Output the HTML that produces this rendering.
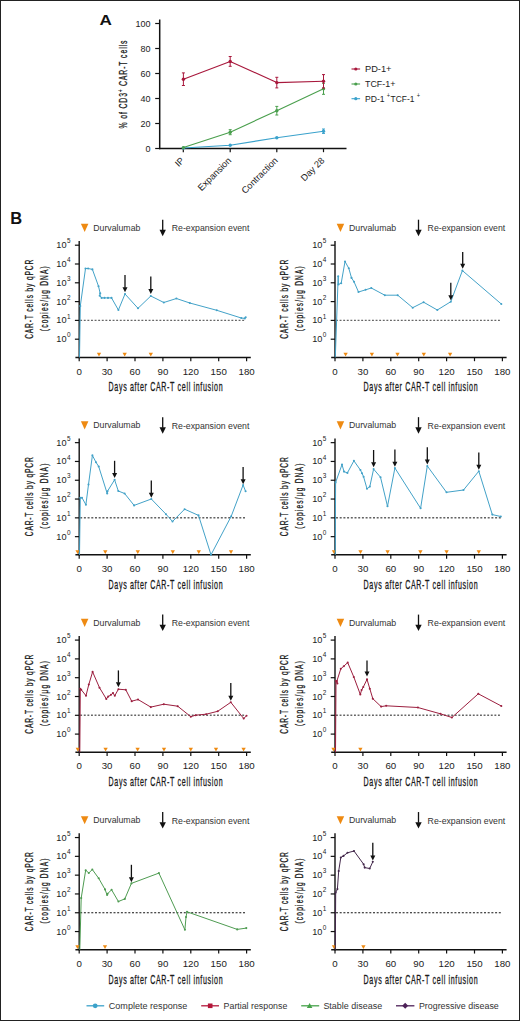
<!DOCTYPE html>
<html><head><meta charset="utf-8"><title>Figure</title>
<style>
html,body{margin:0;padding:0;background:#fff;}
body{width:520px;height:1021px;overflow:hidden;}
svg{display:block;font-family:"Liberation Sans", sans-serif;}
</style></head>
<body>
<svg width="520" height="1021" viewBox="0 0 520 1021">
<rect x="0" y="0" width="520" height="1021" fill="#fff"/>
<rect x="0.5" y="0.5" width="519" height="1020" fill="none" stroke="#222" stroke-width="1"/>
<text x="99.50" y="24.80" font-size="15.4" fill="#111" textLength="12.40" lengthAdjust="spacingAndGlyphs" font-weight="bold" >A</text>
<line x1="159.70" y1="19.50" x2="159.70" y2="149.20" stroke="#111" stroke-width="1.5" />
<line x1="159.00" y1="148.50" x2="346.50" y2="148.50" stroke="#111" stroke-width="1.5" />
<line x1="155.20" y1="148.50" x2="159.70" y2="148.50" stroke="#111" stroke-width="1.2" />
<text x="150.60" y="151.50" font-size="9.0" fill="#222" text-anchor="end" >0</text>
<line x1="155.20" y1="123.50" x2="159.70" y2="123.50" stroke="#111" stroke-width="1.2" />
<text x="150.60" y="126.50" font-size="9.0" fill="#222" text-anchor="end" >20</text>
<line x1="155.20" y1="98.50" x2="159.70" y2="98.50" stroke="#111" stroke-width="1.2" />
<text x="150.60" y="101.50" font-size="9.0" fill="#222" text-anchor="end" >40</text>
<line x1="155.20" y1="73.50" x2="159.70" y2="73.50" stroke="#111" stroke-width="1.2" />
<text x="150.60" y="76.50" font-size="9.0" fill="#222" text-anchor="end" >60</text>
<line x1="155.20" y1="48.50" x2="159.70" y2="48.50" stroke="#111" stroke-width="1.2" />
<text x="150.60" y="51.50" font-size="9.0" fill="#222" text-anchor="end" >80</text>
<line x1="155.20" y1="23.50" x2="159.70" y2="23.50" stroke="#111" stroke-width="1.2" />
<text x="150.60" y="26.50" font-size="9.0" fill="#222" text-anchor="end" >100</text>
<line x1="183.30" y1="148.50" x2="183.30" y2="152.20" stroke="#111" stroke-width="1.2" />
<line x1="230.20" y1="148.50" x2="230.20" y2="152.20" stroke="#111" stroke-width="1.2" />
<line x1="276.80" y1="148.50" x2="276.80" y2="152.20" stroke="#111" stroke-width="1.2" />
<line x1="323.50" y1="148.50" x2="323.50" y2="152.20" stroke="#111" stroke-width="1.2" />
<text transform="translate(184.90,161.10) rotate(-45)" font-size="9.2" fill="#222" text-anchor="end">IP</text>
<text transform="translate(231.80,161.10) rotate(-45)" font-size="9.2" fill="#222" text-anchor="end">Expansion</text>
<text transform="translate(278.40,161.10) rotate(-45)" font-size="9.2" fill="#222" text-anchor="end">Contraction</text>
<text transform="translate(325.10,161.10) rotate(-45)" font-size="9.2" fill="#222" text-anchor="end">Day 28</text>
<text transform="translate(127.20,128.60) rotate(-90) scale(0.58,1)" font-size="11.8" fill="#1a1a1a" stroke="#1a1a1a" stroke-width="0.3" textLength="151.72" lengthAdjust="spacing">% of CD3<tspan font-size="7" dy="-4.5">+</tspan><tspan dy="4.5"> CAR-T cells</tspan></text>
<polyline points="183.40,148.00 230.20,145.30 276.80,137.70 323.50,131.20" fill="none" stroke="#3aa2cc" stroke-width="1.1" stroke-linejoin="round" />
<circle cx="183.40" cy="148.00" r="1.7" fill="#3aa2cc"/>
<circle cx="230.20" cy="145.30" r="1.7" fill="#3aa2cc"/>
<circle cx="276.80" cy="137.70" r="1.7" fill="#3aa2cc"/>
<line x1="323.50" y1="129.00" x2="323.50" y2="133.40" stroke="#3aa2cc" stroke-width="1.0" />
<line x1="322.00" y1="129.00" x2="325.00" y2="129.00" stroke="#3aa2cc" stroke-width="1.0" />
<line x1="322.00" y1="133.40" x2="325.00" y2="133.40" stroke="#3aa2cc" stroke-width="1.0" />
<circle cx="323.50" cy="131.20" r="1.7" fill="#3aa2cc"/>
<polyline points="183.40,147.60 230.20,132.20 276.80,110.70 323.50,88.80" fill="none" stroke="#4a9f4d" stroke-width="1.1" stroke-linejoin="round" />
<circle cx="183.40" cy="147.60" r="1.7" fill="#4a9f4d"/>
<line x1="230.20" y1="129.70" x2="230.20" y2="134.70" stroke="#4a9f4d" stroke-width="1.0" />
<line x1="228.70" y1="129.70" x2="231.70" y2="129.70" stroke="#4a9f4d" stroke-width="1.0" />
<line x1="228.70" y1="134.70" x2="231.70" y2="134.70" stroke="#4a9f4d" stroke-width="1.0" />
<circle cx="230.20" cy="132.20" r="1.7" fill="#4a9f4d"/>
<line x1="276.80" y1="106.40" x2="276.80" y2="115.00" stroke="#4a9f4d" stroke-width="1.0" />
<line x1="275.30" y1="106.40" x2="278.30" y2="106.40" stroke="#4a9f4d" stroke-width="1.0" />
<line x1="275.30" y1="115.00" x2="278.30" y2="115.00" stroke="#4a9f4d" stroke-width="1.0" />
<circle cx="276.80" cy="110.70" r="1.7" fill="#4a9f4d"/>
<line x1="323.50" y1="83.30" x2="323.50" y2="94.30" stroke="#4a9f4d" stroke-width="1.0" />
<line x1="322.00" y1="83.30" x2="325.00" y2="83.30" stroke="#4a9f4d" stroke-width="1.0" />
<line x1="322.00" y1="94.30" x2="325.00" y2="94.30" stroke="#4a9f4d" stroke-width="1.0" />
<circle cx="323.50" cy="88.80" r="1.7" fill="#4a9f4d"/>
<polyline points="183.40,79.20 230.20,61.40 276.80,82.60 323.50,81.30" fill="none" stroke="#a8183c" stroke-width="1.1" stroke-linejoin="round" />
<line x1="183.40" y1="72.90" x2="183.40" y2="85.50" stroke="#a8183c" stroke-width="1.0" />
<line x1="181.90" y1="72.90" x2="184.90" y2="72.90" stroke="#a8183c" stroke-width="1.0" />
<line x1="181.90" y1="85.50" x2="184.90" y2="85.50" stroke="#a8183c" stroke-width="1.0" />
<circle cx="183.40" cy="79.20" r="1.7" fill="#a8183c"/>
<line x1="230.20" y1="56.50" x2="230.20" y2="66.30" stroke="#a8183c" stroke-width="1.0" />
<line x1="228.70" y1="56.50" x2="231.70" y2="56.50" stroke="#a8183c" stroke-width="1.0" />
<line x1="228.70" y1="66.30" x2="231.70" y2="66.30" stroke="#a8183c" stroke-width="1.0" />
<circle cx="230.20" cy="61.40" r="1.7" fill="#a8183c"/>
<line x1="276.80" y1="77.30" x2="276.80" y2="87.90" stroke="#a8183c" stroke-width="1.0" />
<line x1="275.30" y1="77.30" x2="278.30" y2="77.30" stroke="#a8183c" stroke-width="1.0" />
<line x1="275.30" y1="87.90" x2="278.30" y2="87.90" stroke="#a8183c" stroke-width="1.0" />
<circle cx="276.80" cy="82.60" r="1.7" fill="#a8183c"/>
<line x1="323.50" y1="74.60" x2="323.50" y2="88.00" stroke="#a8183c" stroke-width="1.0" />
<line x1="322.00" y1="74.60" x2="325.00" y2="74.60" stroke="#a8183c" stroke-width="1.0" />
<line x1="322.00" y1="88.00" x2="325.00" y2="88.00" stroke="#a8183c" stroke-width="1.0" />
<circle cx="323.50" cy="81.30" r="1.7" fill="#a8183c"/>
<line x1="351.50" y1="69.00" x2="360.10" y2="69.00" stroke="#a8183c" stroke-width="1.1" />
<circle cx="355.8" cy="69.0" r="1.6" fill="#a8183c"/>
<text x="365.00" y="72.10" font-size="9.6" fill="#222" textLength="26.50" lengthAdjust="spacingAndGlyphs" >PD-1+</text>
<line x1="351.50" y1="84.00" x2="360.10" y2="84.00" stroke="#4a9f4d" stroke-width="1.1" />
<circle cx="355.8" cy="84.0" r="1.6" fill="#4a9f4d"/>
<text x="365.00" y="87.10" font-size="9.6" fill="#222" textLength="30.40" lengthAdjust="spacingAndGlyphs" >TCF-1+</text>
<line x1="351.50" y1="98.70" x2="360.10" y2="98.70" stroke="#3aa2cc" stroke-width="1.1" />
<circle cx="355.8" cy="98.7" r="1.6" fill="#3aa2cc"/>
<text x="365.00" y="101.80" font-size="9.6" fill="#222" textLength="19.60" lengthAdjust="spacingAndGlyphs" >PD-1</text>
<text x="386.80" y="97.70" font-size="6.4" fill="#222" textLength="3.30" lengthAdjust="spacingAndGlyphs" >+</text>
<text x="390.60" y="101.80" font-size="9.6" fill="#222" textLength="23.80" lengthAdjust="spacingAndGlyphs" >TCF-1</text>
<text x="416.80" y="97.70" font-size="6.4" fill="#222" textLength="3.30" lengthAdjust="spacingAndGlyphs" >+</text>
<text x="10.30" y="224.20" font-size="15.6" fill="#111" textLength="11.90" lengthAdjust="spacingAndGlyphs" font-weight="bold" >B</text>
<path d="M80.90,223.80 L88.40,223.80 L84.65,232.00 Z" fill="#ee8a12"/>
<text x="93.20" y="231.00" font-size="9.6" fill="#333" textLength="47.20" lengthAdjust="spacingAndGlyphs" >Durvalumab</text>
<line x1="162.70" y1="219.70" x2="162.70" y2="230.30" stroke="#111" stroke-width="1.3" />
<path d="M159.50,229.80 L165.90,229.80 L162.70,236.20 Z" fill="#111"/>
<text x="171.80" y="231.40" font-size="9.6" fill="#333" textLength="77.60" lengthAdjust="spacingAndGlyphs" >Re-expansion event</text>
<line x1="79.20" y1="241.00" x2="79.20" y2="358.15" stroke="#111" stroke-width="1.4" />
<line x1="75.40" y1="357.40" x2="250.80" y2="357.40" stroke="#111" stroke-width="1.5" />
<line x1="74.90" y1="245.20" x2="79.20" y2="245.20" stroke="#111" stroke-width="1.2" />
<text x="66.60" y="248.20" font-size="9.2" fill="#222" text-anchor="end" >10</text>
<text x="67.00" y="243.30" font-size="6.4" fill="#222" >5</text>
<line x1="74.90" y1="264.00" x2="79.20" y2="264.00" stroke="#111" stroke-width="1.2" />
<text x="66.60" y="267.00" font-size="9.2" fill="#222" text-anchor="end" >10</text>
<text x="67.00" y="262.10" font-size="6.4" fill="#222" >4</text>
<line x1="74.90" y1="282.80" x2="79.20" y2="282.80" stroke="#111" stroke-width="1.2" />
<text x="66.60" y="285.80" font-size="9.2" fill="#222" text-anchor="end" >10</text>
<text x="67.00" y="280.90" font-size="6.4" fill="#222" >3</text>
<line x1="74.90" y1="301.60" x2="79.20" y2="301.60" stroke="#111" stroke-width="1.2" />
<text x="66.60" y="304.60" font-size="9.2" fill="#222" text-anchor="end" >10</text>
<text x="67.00" y="299.70" font-size="6.4" fill="#222" >2</text>
<line x1="74.90" y1="320.40" x2="79.20" y2="320.40" stroke="#111" stroke-width="1.2" />
<text x="66.60" y="323.40" font-size="9.2" fill="#222" text-anchor="end" >10</text>
<text x="67.00" y="318.50" font-size="6.4" fill="#222" >1</text>
<line x1="74.90" y1="339.20" x2="79.20" y2="339.20" stroke="#111" stroke-width="1.2" />
<text x="66.60" y="342.20" font-size="9.2" fill="#222" text-anchor="end" >10</text>
<text x="67.00" y="337.30" font-size="6.4" fill="#222" >0</text>
<line x1="79.20" y1="357.40" x2="79.20" y2="361.20" stroke="#111" stroke-width="1.2" />
<text x="79.20" y="374.50" font-size="9.7" fill="#222" text-anchor="middle" >0</text>
<line x1="107.10" y1="357.40" x2="107.10" y2="361.20" stroke="#111" stroke-width="1.2" />
<text x="107.10" y="374.50" font-size="9.7" fill="#222" text-anchor="middle" >30</text>
<line x1="135.00" y1="357.40" x2="135.00" y2="361.20" stroke="#111" stroke-width="1.2" />
<text x="135.00" y="374.50" font-size="9.7" fill="#222" text-anchor="middle" >60</text>
<line x1="162.90" y1="357.40" x2="162.90" y2="361.20" stroke="#111" stroke-width="1.2" />
<text x="162.90" y="374.50" font-size="9.7" fill="#222" text-anchor="middle" >90</text>
<line x1="190.80" y1="357.40" x2="190.80" y2="361.20" stroke="#111" stroke-width="1.2" />
<text x="190.80" y="374.50" font-size="9.7" fill="#222" text-anchor="middle" >120</text>
<line x1="218.70" y1="357.40" x2="218.70" y2="361.20" stroke="#111" stroke-width="1.2" />
<text x="218.70" y="374.50" font-size="9.7" fill="#222" text-anchor="middle" >150</text>
<line x1="246.60" y1="357.40" x2="246.60" y2="361.20" stroke="#111" stroke-width="1.2" />
<text x="246.60" y="374.50" font-size="9.7" fill="#222" text-anchor="middle" >180</text>
<text transform="translate(108.60,391.40) scale(0.58,1)" font-size="12.2" fill="#1a1a1a" stroke="#1a1a1a" stroke-width="0.3" textLength="196.55" lengthAdjust="spacing">Days after CAR-T cell infusion</text>
<text transform="translate(32.60,338.80) rotate(-90) scale(0.58,1)" font-size="11.4" fill="#1a1a1a" stroke="#1a1a1a" stroke-width="0.3" textLength="136.21" lengthAdjust="spacing">CAR-T cells by qPCR</text>
<text transform="translate(47.60,331.20) rotate(-90) scale(0.58,1)" font-size="11.4" fill="#1a1a1a" stroke="#1a1a1a" stroke-width="0.3" textLength="112.07" lengthAdjust="spacing">(copies/μg DNA)</text>
<line x1="80.20" y1="320.40" x2="245.20" y2="320.40" stroke="#666" stroke-width="1.4" stroke-dasharray="1.9 1.7"/>
<path d="M96.85,352.80 L101.15,352.80 L99.00,356.60 Z" fill="#ee8a12"/>
<path d="M122.55,352.80 L126.85,352.80 L124.70,356.60 Z" fill="#ee8a12"/>
<path d="M148.65,352.80 L152.95,352.80 L150.80,356.60 Z" fill="#ee8a12"/>
<polyline points="79.50,357.40 80.30,306.00 85.50,268.50 88.10,268.50 92.40,269.40 98.50,286.20 100.20,293.40 99.70,295.70 101.60,297.90 104.50,297.90 108.00,297.90 111.50,297.90 118.40,310.00 125.00,294.00 138.00,308.30 150.80,296.00 163.80,302.50 176.40,298.50 189.80,303.00 216.80,310.30 241.30,318.00 244.80,318.40 245.70,317.20" fill="none" stroke="#43a2c8" stroke-width="1.0" stroke-linejoin="round" />
<circle cx="80.30" cy="306.00" r="1.05" fill="#43a2c8"/>
<circle cx="85.50" cy="268.50" r="1.05" fill="#43a2c8"/>
<circle cx="88.10" cy="268.50" r="1.05" fill="#43a2c8"/>
<circle cx="92.40" cy="269.40" r="1.05" fill="#43a2c8"/>
<circle cx="98.50" cy="286.20" r="1.05" fill="#43a2c8"/>
<circle cx="100.20" cy="293.40" r="1.05" fill="#43a2c8"/>
<circle cx="99.70" cy="295.70" r="1.05" fill="#43a2c8"/>
<circle cx="101.60" cy="297.90" r="1.05" fill="#43a2c8"/>
<circle cx="104.50" cy="297.90" r="1.05" fill="#43a2c8"/>
<circle cx="108.00" cy="297.90" r="1.05" fill="#43a2c8"/>
<circle cx="111.50" cy="297.90" r="1.05" fill="#43a2c8"/>
<circle cx="118.40" cy="310.00" r="1.05" fill="#43a2c8"/>
<circle cx="125.00" cy="294.00" r="1.05" fill="#43a2c8"/>
<circle cx="138.00" cy="308.30" r="1.05" fill="#43a2c8"/>
<circle cx="150.80" cy="296.00" r="1.05" fill="#43a2c8"/>
<circle cx="163.80" cy="302.50" r="1.05" fill="#43a2c8"/>
<circle cx="176.40" cy="298.50" r="1.05" fill="#43a2c8"/>
<circle cx="189.80" cy="303.00" r="1.05" fill="#43a2c8"/>
<circle cx="216.80" cy="310.30" r="1.05" fill="#43a2c8"/>
<circle cx="241.30" cy="318.00" r="1.05" fill="#43a2c8"/>
<circle cx="244.80" cy="318.40" r="1.05" fill="#43a2c8"/>
<circle cx="245.70" cy="317.20" r="1.05" fill="#43a2c8"/>
<line x1="125.00" y1="275.00" x2="125.00" y2="287.70" stroke="#111" stroke-width="1.3" />
<path d="M122.50,287.20 L127.50,287.20 L125.00,292.20 Z" fill="#111"/>
<line x1="150.80" y1="276.60" x2="150.80" y2="289.50" stroke="#111" stroke-width="1.3" />
<path d="M148.30,289.00 L153.30,289.00 L150.80,294.00 Z" fill="#111"/>
<path d="M336.70,223.80 L344.20,223.80 L340.45,232.00 Z" fill="#ee8a12"/>
<text x="349.00" y="231.00" font-size="9.6" fill="#333" textLength="47.20" lengthAdjust="spacingAndGlyphs" >Durvalumab</text>
<line x1="418.50" y1="219.70" x2="418.50" y2="230.30" stroke="#111" stroke-width="1.3" />
<path d="M415.30,229.80 L421.70,229.80 L418.50,236.20 Z" fill="#111"/>
<text x="427.60" y="231.40" font-size="9.6" fill="#333" textLength="77.60" lengthAdjust="spacingAndGlyphs" >Re-expansion event</text>
<line x1="335.00" y1="241.00" x2="335.00" y2="358.15" stroke="#111" stroke-width="1.4" />
<line x1="331.20" y1="357.40" x2="506.60" y2="357.40" stroke="#111" stroke-width="1.5" />
<line x1="330.70" y1="245.20" x2="335.00" y2="245.20" stroke="#111" stroke-width="1.2" />
<text x="322.40" y="248.20" font-size="9.2" fill="#222" text-anchor="end" >10</text>
<text x="322.80" y="243.30" font-size="6.4" fill="#222" >5</text>
<line x1="330.70" y1="264.00" x2="335.00" y2="264.00" stroke="#111" stroke-width="1.2" />
<text x="322.40" y="267.00" font-size="9.2" fill="#222" text-anchor="end" >10</text>
<text x="322.80" y="262.10" font-size="6.4" fill="#222" >4</text>
<line x1="330.70" y1="282.80" x2="335.00" y2="282.80" stroke="#111" stroke-width="1.2" />
<text x="322.40" y="285.80" font-size="9.2" fill="#222" text-anchor="end" >10</text>
<text x="322.80" y="280.90" font-size="6.4" fill="#222" >3</text>
<line x1="330.70" y1="301.60" x2="335.00" y2="301.60" stroke="#111" stroke-width="1.2" />
<text x="322.40" y="304.60" font-size="9.2" fill="#222" text-anchor="end" >10</text>
<text x="322.80" y="299.70" font-size="6.4" fill="#222" >2</text>
<line x1="330.70" y1="320.40" x2="335.00" y2="320.40" stroke="#111" stroke-width="1.2" />
<text x="322.40" y="323.40" font-size="9.2" fill="#222" text-anchor="end" >10</text>
<text x="322.80" y="318.50" font-size="6.4" fill="#222" >1</text>
<line x1="330.70" y1="339.20" x2="335.00" y2="339.20" stroke="#111" stroke-width="1.2" />
<text x="322.40" y="342.20" font-size="9.2" fill="#222" text-anchor="end" >10</text>
<text x="322.80" y="337.30" font-size="6.4" fill="#222" >0</text>
<line x1="335.00" y1="357.40" x2="335.00" y2="361.20" stroke="#111" stroke-width="1.2" />
<text x="335.00" y="374.50" font-size="9.7" fill="#222" text-anchor="middle" >0</text>
<line x1="362.90" y1="357.40" x2="362.90" y2="361.20" stroke="#111" stroke-width="1.2" />
<text x="362.90" y="374.50" font-size="9.7" fill="#222" text-anchor="middle" >30</text>
<line x1="390.80" y1="357.40" x2="390.80" y2="361.20" stroke="#111" stroke-width="1.2" />
<text x="390.80" y="374.50" font-size="9.7" fill="#222" text-anchor="middle" >60</text>
<line x1="418.70" y1="357.40" x2="418.70" y2="361.20" stroke="#111" stroke-width="1.2" />
<text x="418.70" y="374.50" font-size="9.7" fill="#222" text-anchor="middle" >90</text>
<line x1="446.60" y1="357.40" x2="446.60" y2="361.20" stroke="#111" stroke-width="1.2" />
<text x="446.60" y="374.50" font-size="9.7" fill="#222" text-anchor="middle" >120</text>
<line x1="474.50" y1="357.40" x2="474.50" y2="361.20" stroke="#111" stroke-width="1.2" />
<text x="474.50" y="374.50" font-size="9.7" fill="#222" text-anchor="middle" >150</text>
<line x1="502.40" y1="357.40" x2="502.40" y2="361.20" stroke="#111" stroke-width="1.2" />
<text x="502.40" y="374.50" font-size="9.7" fill="#222" text-anchor="middle" >180</text>
<text transform="translate(363.60,391.40) scale(0.58,1)" font-size="12.2" fill="#1a1a1a" stroke="#1a1a1a" stroke-width="0.3" textLength="196.55" lengthAdjust="spacing">Days after CAR-T cell infusion</text>
<text transform="translate(288.40,338.80) rotate(-90) scale(0.58,1)" font-size="11.4" fill="#1a1a1a" stroke="#1a1a1a" stroke-width="0.3" textLength="136.21" lengthAdjust="spacing">CAR-T cells by qPCR</text>
<text transform="translate(303.40,331.20) rotate(-90) scale(0.58,1)" font-size="11.4" fill="#1a1a1a" stroke="#1a1a1a" stroke-width="0.3" textLength="112.07" lengthAdjust="spacing">(copies/μg DNA)</text>
<line x1="336.00" y1="320.40" x2="501.00" y2="320.40" stroke="#666" stroke-width="1.4" stroke-dasharray="1.9 1.7"/>
<path d="M343.45,352.80 L347.75,352.80 L345.60,356.60 Z" fill="#ee8a12"/>
<path d="M369.75,352.80 L374.05,352.80 L371.90,356.60 Z" fill="#ee8a12"/>
<path d="M395.35,352.80 L399.65,352.80 L397.50,356.60 Z" fill="#ee8a12"/>
<path d="M421.65,352.80 L425.95,352.80 L423.80,356.60 Z" fill="#ee8a12"/>
<path d="M447.95,352.80 L452.25,352.80 L450.10,356.60 Z" fill="#ee8a12"/>
<polyline points="335.30,357.40 338.20,276.30 338.40,284.50 341.20,283.20 345.00,261.50 348.80,268.30 351.50,277.90 354.00,281.70 358.50,292.00 365.60,289.80 371.30,288.00 384.80,295.20 397.70,295.20 412.70,307.70 423.60,302.20 437.30,310.00 450.80,301.70 462.40,270.60 501.30,304.00" fill="none" stroke="#43a2c8" stroke-width="1.0" stroke-linejoin="round" />
<circle cx="338.20" cy="276.30" r="1.05" fill="#43a2c8"/>
<circle cx="338.40" cy="284.50" r="1.05" fill="#43a2c8"/>
<circle cx="341.20" cy="283.20" r="1.05" fill="#43a2c8"/>
<circle cx="345.00" cy="261.50" r="1.05" fill="#43a2c8"/>
<circle cx="348.80" cy="268.30" r="1.05" fill="#43a2c8"/>
<circle cx="351.50" cy="277.90" r="1.05" fill="#43a2c8"/>
<circle cx="354.00" cy="281.70" r="1.05" fill="#43a2c8"/>
<circle cx="358.50" cy="292.00" r="1.05" fill="#43a2c8"/>
<circle cx="365.60" cy="289.80" r="1.05" fill="#43a2c8"/>
<circle cx="371.30" cy="288.00" r="1.05" fill="#43a2c8"/>
<circle cx="384.80" cy="295.20" r="1.05" fill="#43a2c8"/>
<circle cx="397.70" cy="295.20" r="1.05" fill="#43a2c8"/>
<circle cx="412.70" cy="307.70" r="1.05" fill="#43a2c8"/>
<circle cx="423.60" cy="302.20" r="1.05" fill="#43a2c8"/>
<circle cx="437.30" cy="310.00" r="1.05" fill="#43a2c8"/>
<circle cx="450.80" cy="301.70" r="1.05" fill="#43a2c8"/>
<circle cx="462.40" cy="270.60" r="1.05" fill="#43a2c8"/>
<circle cx="501.30" cy="304.00" r="1.05" fill="#43a2c8"/>
<line x1="450.80" y1="282.70" x2="450.80" y2="295.80" stroke="#111" stroke-width="1.3" />
<path d="M448.30,295.30 L453.30,295.30 L450.80,300.30 Z" fill="#111"/>
<line x1="462.70" y1="251.90" x2="462.70" y2="264.30" stroke="#111" stroke-width="1.3" />
<path d="M460.20,263.80 L465.20,263.80 L462.70,268.80 Z" fill="#111"/>
<path d="M80.90,421.25 L88.40,421.25 L84.65,429.45 Z" fill="#ee8a12"/>
<text x="93.20" y="428.45" font-size="9.6" fill="#333" textLength="47.20" lengthAdjust="spacingAndGlyphs" >Durvalumab</text>
<line x1="162.70" y1="417.15" x2="162.70" y2="427.75" stroke="#111" stroke-width="1.3" />
<path d="M159.50,427.25 L165.90,427.25 L162.70,433.65 Z" fill="#111"/>
<text x="171.80" y="428.85" font-size="9.6" fill="#333" textLength="77.60" lengthAdjust="spacingAndGlyphs" >Re-expansion event</text>
<line x1="79.20" y1="438.45" x2="79.20" y2="555.60" stroke="#111" stroke-width="1.4" />
<line x1="75.40" y1="554.85" x2="250.80" y2="554.85" stroke="#111" stroke-width="1.5" />
<line x1="74.90" y1="442.65" x2="79.20" y2="442.65" stroke="#111" stroke-width="1.2" />
<text x="66.60" y="445.65" font-size="9.2" fill="#222" text-anchor="end" >10</text>
<text x="67.00" y="440.75" font-size="6.4" fill="#222" >5</text>
<line x1="74.90" y1="461.45" x2="79.20" y2="461.45" stroke="#111" stroke-width="1.2" />
<text x="66.60" y="464.45" font-size="9.2" fill="#222" text-anchor="end" >10</text>
<text x="67.00" y="459.55" font-size="6.4" fill="#222" >4</text>
<line x1="74.90" y1="480.25" x2="79.20" y2="480.25" stroke="#111" stroke-width="1.2" />
<text x="66.60" y="483.25" font-size="9.2" fill="#222" text-anchor="end" >10</text>
<text x="67.00" y="478.35" font-size="6.4" fill="#222" >3</text>
<line x1="74.90" y1="499.05" x2="79.20" y2="499.05" stroke="#111" stroke-width="1.2" />
<text x="66.60" y="502.05" font-size="9.2" fill="#222" text-anchor="end" >10</text>
<text x="67.00" y="497.15" font-size="6.4" fill="#222" >2</text>
<line x1="74.90" y1="517.85" x2="79.20" y2="517.85" stroke="#111" stroke-width="1.2" />
<text x="66.60" y="520.85" font-size="9.2" fill="#222" text-anchor="end" >10</text>
<text x="67.00" y="515.95" font-size="6.4" fill="#222" >1</text>
<line x1="74.90" y1="536.65" x2="79.20" y2="536.65" stroke="#111" stroke-width="1.2" />
<text x="66.60" y="539.65" font-size="9.2" fill="#222" text-anchor="end" >10</text>
<text x="67.00" y="534.75" font-size="6.4" fill="#222" >0</text>
<line x1="79.20" y1="554.85" x2="79.20" y2="558.65" stroke="#111" stroke-width="1.2" />
<text x="79.20" y="571.95" font-size="9.7" fill="#222" text-anchor="middle" >0</text>
<line x1="107.10" y1="554.85" x2="107.10" y2="558.65" stroke="#111" stroke-width="1.2" />
<text x="107.10" y="571.95" font-size="9.7" fill="#222" text-anchor="middle" >30</text>
<line x1="135.00" y1="554.85" x2="135.00" y2="558.65" stroke="#111" stroke-width="1.2" />
<text x="135.00" y="571.95" font-size="9.7" fill="#222" text-anchor="middle" >60</text>
<line x1="162.90" y1="554.85" x2="162.90" y2="558.65" stroke="#111" stroke-width="1.2" />
<text x="162.90" y="571.95" font-size="9.7" fill="#222" text-anchor="middle" >90</text>
<line x1="190.80" y1="554.85" x2="190.80" y2="558.65" stroke="#111" stroke-width="1.2" />
<text x="190.80" y="571.95" font-size="9.7" fill="#222" text-anchor="middle" >120</text>
<line x1="218.70" y1="554.85" x2="218.70" y2="558.65" stroke="#111" stroke-width="1.2" />
<text x="218.70" y="571.95" font-size="9.7" fill="#222" text-anchor="middle" >150</text>
<line x1="246.60" y1="554.85" x2="246.60" y2="558.65" stroke="#111" stroke-width="1.2" />
<text x="246.60" y="571.95" font-size="9.7" fill="#222" text-anchor="middle" >180</text>
<text transform="translate(108.60,588.85) scale(0.58,1)" font-size="12.2" fill="#1a1a1a" stroke="#1a1a1a" stroke-width="0.3" textLength="196.55" lengthAdjust="spacing">Days after CAR-T cell infusion</text>
<text transform="translate(32.60,536.25) rotate(-90) scale(0.58,1)" font-size="11.4" fill="#1a1a1a" stroke="#1a1a1a" stroke-width="0.3" textLength="136.21" lengthAdjust="spacing">CAR-T cells by qPCR</text>
<text transform="translate(47.60,528.65) rotate(-90) scale(0.58,1)" font-size="11.4" fill="#1a1a1a" stroke="#1a1a1a" stroke-width="0.3" textLength="112.07" lengthAdjust="spacing">(copies/μg DNA)</text>
<line x1="80.20" y1="517.85" x2="245.20" y2="517.85" stroke="#111" stroke-width="1.0" stroke-dasharray="2.0 1.7"/>
<path d="M75.45,550.25 L79.75,550.25 L77.60,554.05 Z" fill="#ee8a12"/>
<path d="M103.15,550.25 L107.45,550.25 L105.30,554.05 Z" fill="#ee8a12"/>
<path d="M135.65,550.25 L139.95,550.25 L137.80,554.05 Z" fill="#ee8a12"/>
<path d="M170.65,550.25 L174.95,550.25 L172.80,554.05 Z" fill="#ee8a12"/>
<path d="M196.65,550.25 L200.95,550.25 L198.80,554.05 Z" fill="#ee8a12"/>
<path d="M228.85,550.25 L233.15,550.25 L231.00,554.05 Z" fill="#ee8a12"/>
<polyline points="79.50,554.80 80.30,497.80 82.00,497.80 85.90,504.70 88.50,484.50 92.40,455.40 96.00,462.30 98.70,466.50 107.20,493.50 107.50,491.20 114.60,479.80 118.30,491.00 124.60,493.50 134.10,505.40 151.30,499.00 166.00,514.20 172.50,521.50 184.60,509.20 198.50,515.40 211.00,554.80 231.20,516.30 243.10,485.00 245.60,491.30" fill="none" stroke="#43a2c8" stroke-width="1.0" stroke-linejoin="round" />
<circle cx="80.30" cy="497.80" r="1.05" fill="#43a2c8"/>
<circle cx="82.00" cy="497.80" r="1.05" fill="#43a2c8"/>
<circle cx="85.90" cy="504.70" r="1.05" fill="#43a2c8"/>
<circle cx="88.50" cy="484.50" r="1.05" fill="#43a2c8"/>
<circle cx="92.40" cy="455.40" r="1.05" fill="#43a2c8"/>
<circle cx="96.00" cy="462.30" r="1.05" fill="#43a2c8"/>
<circle cx="98.70" cy="466.50" r="1.05" fill="#43a2c8"/>
<circle cx="107.20" cy="493.50" r="1.05" fill="#43a2c8"/>
<circle cx="107.50" cy="491.20" r="1.05" fill="#43a2c8"/>
<circle cx="114.60" cy="479.80" r="1.05" fill="#43a2c8"/>
<circle cx="118.30" cy="491.00" r="1.05" fill="#43a2c8"/>
<circle cx="124.60" cy="493.50" r="1.05" fill="#43a2c8"/>
<circle cx="134.10" cy="505.40" r="1.05" fill="#43a2c8"/>
<circle cx="151.30" cy="499.00" r="1.05" fill="#43a2c8"/>
<circle cx="166.00" cy="514.20" r="1.05" fill="#43a2c8"/>
<circle cx="172.50" cy="521.50" r="1.05" fill="#43a2c8"/>
<circle cx="184.60" cy="509.20" r="1.05" fill="#43a2c8"/>
<circle cx="198.50" cy="515.40" r="1.05" fill="#43a2c8"/>
<circle cx="211.00" cy="554.80" r="1.05" fill="#43a2c8"/>
<circle cx="231.20" cy="516.30" r="1.05" fill="#43a2c8"/>
<circle cx="243.10" cy="485.00" r="1.05" fill="#43a2c8"/>
<circle cx="245.60" cy="491.30" r="1.05" fill="#43a2c8"/>
<line x1="114.60" y1="460.80" x2="114.60" y2="473.50" stroke="#111" stroke-width="1.3" />
<path d="M112.10,473.00 L117.10,473.00 L114.60,478.00 Z" fill="#111"/>
<line x1="151.30" y1="480.50" x2="151.30" y2="493.30" stroke="#111" stroke-width="1.3" />
<path d="M148.80,492.80 L153.80,492.80 L151.30,497.80 Z" fill="#111"/>
<line x1="243.10" y1="467.00" x2="243.10" y2="479.70" stroke="#111" stroke-width="1.3" />
<path d="M240.60,479.20 L245.60,479.20 L243.10,484.20 Z" fill="#111"/>
<path d="M336.70,421.25 L344.20,421.25 L340.45,429.45 Z" fill="#ee8a12"/>
<text x="349.00" y="428.45" font-size="9.6" fill="#333" textLength="47.20" lengthAdjust="spacingAndGlyphs" >Durvalumab</text>
<line x1="418.50" y1="417.15" x2="418.50" y2="427.75" stroke="#111" stroke-width="1.3" />
<path d="M415.30,427.25 L421.70,427.25 L418.50,433.65 Z" fill="#111"/>
<text x="427.60" y="428.85" font-size="9.6" fill="#333" textLength="77.60" lengthAdjust="spacingAndGlyphs" >Re-expansion event</text>
<line x1="335.00" y1="438.45" x2="335.00" y2="555.60" stroke="#111" stroke-width="1.4" />
<line x1="331.20" y1="554.85" x2="506.60" y2="554.85" stroke="#111" stroke-width="1.5" />
<line x1="330.70" y1="442.65" x2="335.00" y2="442.65" stroke="#111" stroke-width="1.2" />
<text x="322.40" y="445.65" font-size="9.2" fill="#222" text-anchor="end" >10</text>
<text x="322.80" y="440.75" font-size="6.4" fill="#222" >5</text>
<line x1="330.70" y1="461.45" x2="335.00" y2="461.45" stroke="#111" stroke-width="1.2" />
<text x="322.40" y="464.45" font-size="9.2" fill="#222" text-anchor="end" >10</text>
<text x="322.80" y="459.55" font-size="6.4" fill="#222" >4</text>
<line x1="330.70" y1="480.25" x2="335.00" y2="480.25" stroke="#111" stroke-width="1.2" />
<text x="322.40" y="483.25" font-size="9.2" fill="#222" text-anchor="end" >10</text>
<text x="322.80" y="478.35" font-size="6.4" fill="#222" >3</text>
<line x1="330.70" y1="499.05" x2="335.00" y2="499.05" stroke="#111" stroke-width="1.2" />
<text x="322.40" y="502.05" font-size="9.2" fill="#222" text-anchor="end" >10</text>
<text x="322.80" y="497.15" font-size="6.4" fill="#222" >2</text>
<line x1="330.70" y1="517.85" x2="335.00" y2="517.85" stroke="#111" stroke-width="1.2" />
<text x="322.40" y="520.85" font-size="9.2" fill="#222" text-anchor="end" >10</text>
<text x="322.80" y="515.95" font-size="6.4" fill="#222" >1</text>
<line x1="330.70" y1="536.65" x2="335.00" y2="536.65" stroke="#111" stroke-width="1.2" />
<text x="322.40" y="539.65" font-size="9.2" fill="#222" text-anchor="end" >10</text>
<text x="322.80" y="534.75" font-size="6.4" fill="#222" >0</text>
<line x1="335.00" y1="554.85" x2="335.00" y2="558.65" stroke="#111" stroke-width="1.2" />
<text x="335.00" y="571.95" font-size="9.7" fill="#222" text-anchor="middle" >0</text>
<line x1="362.90" y1="554.85" x2="362.90" y2="558.65" stroke="#111" stroke-width="1.2" />
<text x="362.90" y="571.95" font-size="9.7" fill="#222" text-anchor="middle" >30</text>
<line x1="390.80" y1="554.85" x2="390.80" y2="558.65" stroke="#111" stroke-width="1.2" />
<text x="390.80" y="571.95" font-size="9.7" fill="#222" text-anchor="middle" >60</text>
<line x1="418.70" y1="554.85" x2="418.70" y2="558.65" stroke="#111" stroke-width="1.2" />
<text x="418.70" y="571.95" font-size="9.7" fill="#222" text-anchor="middle" >90</text>
<line x1="446.60" y1="554.85" x2="446.60" y2="558.65" stroke="#111" stroke-width="1.2" />
<text x="446.60" y="571.95" font-size="9.7" fill="#222" text-anchor="middle" >120</text>
<line x1="474.50" y1="554.85" x2="474.50" y2="558.65" stroke="#111" stroke-width="1.2" />
<text x="474.50" y="571.95" font-size="9.7" fill="#222" text-anchor="middle" >150</text>
<line x1="502.40" y1="554.85" x2="502.40" y2="558.65" stroke="#111" stroke-width="1.2" />
<text x="502.40" y="571.95" font-size="9.7" fill="#222" text-anchor="middle" >180</text>
<text transform="translate(363.60,588.85) scale(0.58,1)" font-size="12.2" fill="#1a1a1a" stroke="#1a1a1a" stroke-width="0.3" textLength="196.55" lengthAdjust="spacing">Days after CAR-T cell infusion</text>
<text transform="translate(288.40,536.25) rotate(-90) scale(0.58,1)" font-size="11.4" fill="#1a1a1a" stroke="#1a1a1a" stroke-width="0.3" textLength="136.21" lengthAdjust="spacing">CAR-T cells by qPCR</text>
<text transform="translate(303.40,528.65) rotate(-90) scale(0.58,1)" font-size="11.4" fill="#1a1a1a" stroke="#1a1a1a" stroke-width="0.3" textLength="112.07" lengthAdjust="spacing">(copies/μg DNA)</text>
<line x1="336.00" y1="517.85" x2="501.00" y2="517.85" stroke="#111" stroke-width="1.0" stroke-dasharray="2.0 1.7"/>
<path d="M331.85,550.25 L336.15,550.25 L334.00,554.05 Z" fill="#ee8a12"/>
<path d="M358.35,550.25 L362.65,550.25 L360.50,554.05 Z" fill="#ee8a12"/>
<path d="M385.45,550.25 L389.75,550.25 L387.60,554.05 Z" fill="#ee8a12"/>
<path d="M418.25,550.25 L422.55,550.25 L420.40,554.05 Z" fill="#ee8a12"/>
<path d="M444.45,550.25 L448.75,550.25 L446.60,554.05 Z" fill="#ee8a12"/>
<path d="M476.65,550.25 L480.95,550.25 L478.80,554.05 Z" fill="#ee8a12"/>
<polyline points="335.30,554.80 335.60,482.40 342.00,464.60 344.00,471.60 347.40,472.90 353.90,460.80 360.40,470.00 362.00,473.20 363.60,476.80 367.00,488.80 369.80,486.60 373.60,469.10 380.50,477.20 387.50,506.30 394.90,468.00 420.60,508.30 427.30,466.00 446.50,492.30 463.50,490.00 478.80,471.20 492.30,514.60 500.80,516.50" fill="none" stroke="#43a2c8" stroke-width="1.0" stroke-linejoin="round" />
<circle cx="335.60" cy="482.40" r="1.05" fill="#43a2c8"/>
<circle cx="342.00" cy="464.60" r="1.05" fill="#43a2c8"/>
<circle cx="344.00" cy="471.60" r="1.05" fill="#43a2c8"/>
<circle cx="347.40" cy="472.90" r="1.05" fill="#43a2c8"/>
<circle cx="353.90" cy="460.80" r="1.05" fill="#43a2c8"/>
<circle cx="360.40" cy="470.00" r="1.05" fill="#43a2c8"/>
<circle cx="362.00" cy="473.20" r="1.05" fill="#43a2c8"/>
<circle cx="363.60" cy="476.80" r="1.05" fill="#43a2c8"/>
<circle cx="367.00" cy="488.80" r="1.05" fill="#43a2c8"/>
<circle cx="369.80" cy="486.60" r="1.05" fill="#43a2c8"/>
<circle cx="373.60" cy="469.10" r="1.05" fill="#43a2c8"/>
<circle cx="380.50" cy="477.20" r="1.05" fill="#43a2c8"/>
<circle cx="387.50" cy="506.30" r="1.05" fill="#43a2c8"/>
<circle cx="394.90" cy="468.00" r="1.05" fill="#43a2c8"/>
<circle cx="420.60" cy="508.30" r="1.05" fill="#43a2c8"/>
<circle cx="427.30" cy="466.00" r="1.05" fill="#43a2c8"/>
<circle cx="446.50" cy="492.30" r="1.05" fill="#43a2c8"/>
<circle cx="463.50" cy="490.00" r="1.05" fill="#43a2c8"/>
<circle cx="478.80" cy="471.20" r="1.05" fill="#43a2c8"/>
<circle cx="492.30" cy="514.60" r="1.05" fill="#43a2c8"/>
<circle cx="500.80" cy="516.50" r="1.05" fill="#43a2c8"/>
<line x1="373.60" y1="450.00" x2="373.60" y2="462.80" stroke="#111" stroke-width="1.3" />
<path d="M371.10,462.30 L376.10,462.30 L373.60,467.30 Z" fill="#111"/>
<line x1="394.90" y1="449.50" x2="394.90" y2="462.30" stroke="#111" stroke-width="1.3" />
<path d="M392.40,461.80 L397.40,461.80 L394.90,466.80 Z" fill="#111"/>
<line x1="427.30" y1="447.30" x2="427.30" y2="460.10" stroke="#111" stroke-width="1.3" />
<path d="M424.80,459.60 L429.80,459.60 L427.30,464.60 Z" fill="#111"/>
<line x1="478.80" y1="452.50" x2="478.80" y2="465.30" stroke="#111" stroke-width="1.3" />
<path d="M476.30,464.80 L481.30,464.80 L478.80,469.80 Z" fill="#111"/>
<path d="M80.90,618.70 L88.40,618.70 L84.65,626.90 Z" fill="#ee8a12"/>
<text x="93.20" y="625.90" font-size="9.6" fill="#333" textLength="47.20" lengthAdjust="spacingAndGlyphs" >Durvalumab</text>
<line x1="162.70" y1="614.60" x2="162.70" y2="625.20" stroke="#111" stroke-width="1.3" />
<path d="M159.50,624.70 L165.90,624.70 L162.70,631.10 Z" fill="#111"/>
<text x="171.80" y="626.30" font-size="9.6" fill="#333" textLength="77.60" lengthAdjust="spacingAndGlyphs" >Re-expansion event</text>
<line x1="79.20" y1="635.90" x2="79.20" y2="753.05" stroke="#111" stroke-width="1.4" />
<line x1="75.40" y1="752.30" x2="250.80" y2="752.30" stroke="#111" stroke-width="1.5" />
<line x1="74.90" y1="640.10" x2="79.20" y2="640.10" stroke="#111" stroke-width="1.2" />
<text x="66.60" y="643.10" font-size="9.2" fill="#222" text-anchor="end" >10</text>
<text x="67.00" y="638.20" font-size="6.4" fill="#222" >5</text>
<line x1="74.90" y1="658.90" x2="79.20" y2="658.90" stroke="#111" stroke-width="1.2" />
<text x="66.60" y="661.90" font-size="9.2" fill="#222" text-anchor="end" >10</text>
<text x="67.00" y="657.00" font-size="6.4" fill="#222" >4</text>
<line x1="74.90" y1="677.70" x2="79.20" y2="677.70" stroke="#111" stroke-width="1.2" />
<text x="66.60" y="680.70" font-size="9.2" fill="#222" text-anchor="end" >10</text>
<text x="67.00" y="675.80" font-size="6.4" fill="#222" >3</text>
<line x1="74.90" y1="696.50" x2="79.20" y2="696.50" stroke="#111" stroke-width="1.2" />
<text x="66.60" y="699.50" font-size="9.2" fill="#222" text-anchor="end" >10</text>
<text x="67.00" y="694.60" font-size="6.4" fill="#222" >2</text>
<line x1="74.90" y1="715.30" x2="79.20" y2="715.30" stroke="#111" stroke-width="1.2" />
<text x="66.60" y="718.30" font-size="9.2" fill="#222" text-anchor="end" >10</text>
<text x="67.00" y="713.40" font-size="6.4" fill="#222" >1</text>
<line x1="74.90" y1="734.10" x2="79.20" y2="734.10" stroke="#111" stroke-width="1.2" />
<text x="66.60" y="737.10" font-size="9.2" fill="#222" text-anchor="end" >10</text>
<text x="67.00" y="732.20" font-size="6.4" fill="#222" >0</text>
<line x1="79.20" y1="752.30" x2="79.20" y2="756.10" stroke="#111" stroke-width="1.2" />
<text x="79.20" y="769.40" font-size="9.7" fill="#222" text-anchor="middle" >0</text>
<line x1="107.10" y1="752.30" x2="107.10" y2="756.10" stroke="#111" stroke-width="1.2" />
<text x="107.10" y="769.40" font-size="9.7" fill="#222" text-anchor="middle" >30</text>
<line x1="135.00" y1="752.30" x2="135.00" y2="756.10" stroke="#111" stroke-width="1.2" />
<text x="135.00" y="769.40" font-size="9.7" fill="#222" text-anchor="middle" >60</text>
<line x1="162.90" y1="752.30" x2="162.90" y2="756.10" stroke="#111" stroke-width="1.2" />
<text x="162.90" y="769.40" font-size="9.7" fill="#222" text-anchor="middle" >90</text>
<line x1="190.80" y1="752.30" x2="190.80" y2="756.10" stroke="#111" stroke-width="1.2" />
<text x="190.80" y="769.40" font-size="9.7" fill="#222" text-anchor="middle" >120</text>
<line x1="218.70" y1="752.30" x2="218.70" y2="756.10" stroke="#111" stroke-width="1.2" />
<text x="218.70" y="769.40" font-size="9.7" fill="#222" text-anchor="middle" >150</text>
<line x1="246.60" y1="752.30" x2="246.60" y2="756.10" stroke="#111" stroke-width="1.2" />
<text x="246.60" y="769.40" font-size="9.7" fill="#222" text-anchor="middle" >180</text>
<text transform="translate(108.60,786.30) scale(0.58,1)" font-size="12.2" fill="#1a1a1a" stroke="#1a1a1a" stroke-width="0.3" textLength="196.55" lengthAdjust="spacing">Days after CAR-T cell infusion</text>
<text transform="translate(32.60,733.70) rotate(-90) scale(0.58,1)" font-size="11.4" fill="#1a1a1a" stroke="#1a1a1a" stroke-width="0.3" textLength="136.21" lengthAdjust="spacing">CAR-T cells by qPCR</text>
<text transform="translate(47.60,726.10) rotate(-90) scale(0.58,1)" font-size="11.4" fill="#1a1a1a" stroke="#1a1a1a" stroke-width="0.3" textLength="112.07" lengthAdjust="spacing">(copies/μg DNA)</text>
<line x1="80.20" y1="715.30" x2="245.20" y2="715.30" stroke="#666" stroke-width="1.4" stroke-dasharray="1.9 1.7"/>
<path d="M75.65,747.70 L79.95,747.70 L77.80,751.50 Z" fill="#ee8a12"/>
<path d="M103.45,747.70 L107.75,747.70 L105.60,751.50 Z" fill="#ee8a12"/>
<path d="M135.45,747.70 L139.75,747.70 L137.60,751.50 Z" fill="#ee8a12"/>
<path d="M161.85,747.70 L166.15,747.70 L164.00,751.50 Z" fill="#ee8a12"/>
<path d="M188.65,747.70 L192.95,747.70 L190.80,751.50 Z" fill="#ee8a12"/>
<path d="M213.85,747.70 L218.15,747.70 L216.00,751.50 Z" fill="#ee8a12"/>
<path d="M241.45,747.70 L245.75,747.70 L243.60,751.50 Z" fill="#ee8a12"/>
<polyline points="79.80,752.30 80.30,688.80 81.20,689.70 86.00,695.70 88.80,684.50 92.60,671.90 99.50,687.70 106.30,698.90 108.20,696.60 111.00,694.80 113.00,693.10 114.80,695.70 118.40,689.20 125.80,689.80 131.70,701.20 138.00,699.50 150.80,707.10 163.80,704.20 177.70,706.20 190.80,716.70 195.60,715.20 206.20,714.20 217.70,711.30 230.80,702.30 243.70,718.50 246.50,715.80" fill="none" stroke="#9c1f3f" stroke-width="1.0" stroke-linejoin="round" />
<circle cx="80.30" cy="688.80" r="1.05" fill="#9c1f3f"/>
<circle cx="81.20" cy="689.70" r="1.05" fill="#9c1f3f"/>
<circle cx="86.00" cy="695.70" r="1.05" fill="#9c1f3f"/>
<circle cx="88.80" cy="684.50" r="1.05" fill="#9c1f3f"/>
<circle cx="92.60" cy="671.90" r="1.05" fill="#9c1f3f"/>
<circle cx="99.50" cy="687.70" r="1.05" fill="#9c1f3f"/>
<circle cx="106.30" cy="698.90" r="1.05" fill="#9c1f3f"/>
<circle cx="108.20" cy="696.60" r="1.05" fill="#9c1f3f"/>
<circle cx="111.00" cy="694.80" r="1.05" fill="#9c1f3f"/>
<circle cx="113.00" cy="693.10" r="1.05" fill="#9c1f3f"/>
<circle cx="114.80" cy="695.70" r="1.05" fill="#9c1f3f"/>
<circle cx="118.40" cy="689.20" r="1.05" fill="#9c1f3f"/>
<circle cx="125.80" cy="689.80" r="1.05" fill="#9c1f3f"/>
<circle cx="131.70" cy="701.20" r="1.05" fill="#9c1f3f"/>
<circle cx="138.00" cy="699.50" r="1.05" fill="#9c1f3f"/>
<circle cx="150.80" cy="707.10" r="1.05" fill="#9c1f3f"/>
<circle cx="163.80" cy="704.20" r="1.05" fill="#9c1f3f"/>
<circle cx="177.70" cy="706.20" r="1.05" fill="#9c1f3f"/>
<circle cx="190.80" cy="716.70" r="1.05" fill="#9c1f3f"/>
<circle cx="195.60" cy="715.20" r="1.05" fill="#9c1f3f"/>
<circle cx="206.20" cy="714.20" r="1.05" fill="#9c1f3f"/>
<circle cx="217.70" cy="711.30" r="1.05" fill="#9c1f3f"/>
<circle cx="230.80" cy="702.30" r="1.05" fill="#9c1f3f"/>
<circle cx="243.70" cy="718.50" r="1.05" fill="#9c1f3f"/>
<circle cx="246.50" cy="715.80" r="1.05" fill="#9c1f3f"/>
<line x1="118.40" y1="670.40" x2="118.40" y2="682.80" stroke="#111" stroke-width="1.3" />
<path d="M115.90,682.30 L120.90,682.30 L118.40,687.30 Z" fill="#111"/>
<line x1="230.80" y1="683.00" x2="230.80" y2="696.30" stroke="#111" stroke-width="1.3" />
<path d="M228.30,695.80 L233.30,695.80 L230.80,700.80 Z" fill="#111"/>
<path d="M336.70,618.70 L344.20,618.70 L340.45,626.90 Z" fill="#ee8a12"/>
<text x="349.00" y="625.90" font-size="9.6" fill="#333" textLength="47.20" lengthAdjust="spacingAndGlyphs" >Durvalumab</text>
<line x1="418.50" y1="614.60" x2="418.50" y2="625.20" stroke="#111" stroke-width="1.3" />
<path d="M415.30,624.70 L421.70,624.70 L418.50,631.10 Z" fill="#111"/>
<text x="427.60" y="626.30" font-size="9.6" fill="#333" textLength="77.60" lengthAdjust="spacingAndGlyphs" >Re-expansion event</text>
<line x1="335.00" y1="635.90" x2="335.00" y2="753.05" stroke="#111" stroke-width="1.4" />
<line x1="331.20" y1="752.30" x2="506.60" y2="752.30" stroke="#111" stroke-width="1.5" />
<line x1="330.70" y1="640.10" x2="335.00" y2="640.10" stroke="#111" stroke-width="1.2" />
<text x="322.40" y="643.10" font-size="9.2" fill="#222" text-anchor="end" >10</text>
<text x="322.80" y="638.20" font-size="6.4" fill="#222" >5</text>
<line x1="330.70" y1="658.90" x2="335.00" y2="658.90" stroke="#111" stroke-width="1.2" />
<text x="322.40" y="661.90" font-size="9.2" fill="#222" text-anchor="end" >10</text>
<text x="322.80" y="657.00" font-size="6.4" fill="#222" >4</text>
<line x1="330.70" y1="677.70" x2="335.00" y2="677.70" stroke="#111" stroke-width="1.2" />
<text x="322.40" y="680.70" font-size="9.2" fill="#222" text-anchor="end" >10</text>
<text x="322.80" y="675.80" font-size="6.4" fill="#222" >3</text>
<line x1="330.70" y1="696.50" x2="335.00" y2="696.50" stroke="#111" stroke-width="1.2" />
<text x="322.40" y="699.50" font-size="9.2" fill="#222" text-anchor="end" >10</text>
<text x="322.80" y="694.60" font-size="6.4" fill="#222" >2</text>
<line x1="330.70" y1="715.30" x2="335.00" y2="715.30" stroke="#111" stroke-width="1.2" />
<text x="322.40" y="718.30" font-size="9.2" fill="#222" text-anchor="end" >10</text>
<text x="322.80" y="713.40" font-size="6.4" fill="#222" >1</text>
<line x1="330.70" y1="734.10" x2="335.00" y2="734.10" stroke="#111" stroke-width="1.2" />
<text x="322.40" y="737.10" font-size="9.2" fill="#222" text-anchor="end" >10</text>
<text x="322.80" y="732.20" font-size="6.4" fill="#222" >0</text>
<line x1="335.00" y1="752.30" x2="335.00" y2="756.10" stroke="#111" stroke-width="1.2" />
<text x="335.00" y="769.40" font-size="9.7" fill="#222" text-anchor="middle" >0</text>
<line x1="362.90" y1="752.30" x2="362.90" y2="756.10" stroke="#111" stroke-width="1.2" />
<text x="362.90" y="769.40" font-size="9.7" fill="#222" text-anchor="middle" >30</text>
<line x1="390.80" y1="752.30" x2="390.80" y2="756.10" stroke="#111" stroke-width="1.2" />
<text x="390.80" y="769.40" font-size="9.7" fill="#222" text-anchor="middle" >60</text>
<line x1="418.70" y1="752.30" x2="418.70" y2="756.10" stroke="#111" stroke-width="1.2" />
<text x="418.70" y="769.40" font-size="9.7" fill="#222" text-anchor="middle" >90</text>
<line x1="446.60" y1="752.30" x2="446.60" y2="756.10" stroke="#111" stroke-width="1.2" />
<text x="446.60" y="769.40" font-size="9.7" fill="#222" text-anchor="middle" >120</text>
<line x1="474.50" y1="752.30" x2="474.50" y2="756.10" stroke="#111" stroke-width="1.2" />
<text x="474.50" y="769.40" font-size="9.7" fill="#222" text-anchor="middle" >150</text>
<line x1="502.40" y1="752.30" x2="502.40" y2="756.10" stroke="#111" stroke-width="1.2" />
<text x="502.40" y="769.40" font-size="9.7" fill="#222" text-anchor="middle" >180</text>
<text transform="translate(363.60,786.30) scale(0.58,1)" font-size="12.2" fill="#1a1a1a" stroke="#1a1a1a" stroke-width="0.3" textLength="196.55" lengthAdjust="spacing">Days after CAR-T cell infusion</text>
<text transform="translate(288.40,733.70) rotate(-90) scale(0.58,1)" font-size="11.4" fill="#1a1a1a" stroke="#1a1a1a" stroke-width="0.3" textLength="136.21" lengthAdjust="spacing">CAR-T cells by qPCR</text>
<text transform="translate(303.40,726.10) rotate(-90) scale(0.58,1)" font-size="11.4" fill="#1a1a1a" stroke="#1a1a1a" stroke-width="0.3" textLength="112.07" lengthAdjust="spacing">(copies/μg DNA)</text>
<line x1="336.00" y1="715.30" x2="501.00" y2="715.30" stroke="#666" stroke-width="1.4" stroke-dasharray="1.9 1.7"/>
<path d="M331.35,747.70 L335.65,747.70 L333.50,751.50 Z" fill="#ee8a12"/>
<path d="M358.25,747.70 L362.55,747.70 L360.40,751.50 Z" fill="#ee8a12"/>
<polyline points="335.50,752.30 336.00,681.00 337.40,683.50 336.90,681.00 340.80,668.80 343.80,666.20 347.70,662.60 353.80,677.00 360.30,694.40 361.60,690.00 363.30,687.00 367.00,679.40 369.80,688.70 372.80,698.70 381.10,706.60 386.20,705.80 417.90,707.50 440.40,713.80 451.90,717.50 478.30,693.80 501.30,706.00" fill="none" stroke="#9c1f3f" stroke-width="1.0" stroke-linejoin="round" />
<circle cx="336.00" cy="681.00" r="1.05" fill="#9c1f3f"/>
<circle cx="337.40" cy="683.50" r="1.05" fill="#9c1f3f"/>
<circle cx="336.90" cy="681.00" r="1.05" fill="#9c1f3f"/>
<circle cx="340.80" cy="668.80" r="1.05" fill="#9c1f3f"/>
<circle cx="343.80" cy="666.20" r="1.05" fill="#9c1f3f"/>
<circle cx="347.70" cy="662.60" r="1.05" fill="#9c1f3f"/>
<circle cx="353.80" cy="677.00" r="1.05" fill="#9c1f3f"/>
<circle cx="360.30" cy="694.40" r="1.05" fill="#9c1f3f"/>
<circle cx="361.60" cy="690.00" r="1.05" fill="#9c1f3f"/>
<circle cx="363.30" cy="687.00" r="1.05" fill="#9c1f3f"/>
<circle cx="367.00" cy="679.40" r="1.05" fill="#9c1f3f"/>
<circle cx="369.80" cy="688.70" r="1.05" fill="#9c1f3f"/>
<circle cx="372.80" cy="698.70" r="1.05" fill="#9c1f3f"/>
<circle cx="381.10" cy="706.60" r="1.05" fill="#9c1f3f"/>
<circle cx="386.20" cy="705.80" r="1.05" fill="#9c1f3f"/>
<circle cx="417.90" cy="707.50" r="1.05" fill="#9c1f3f"/>
<circle cx="440.40" cy="713.80" r="1.05" fill="#9c1f3f"/>
<circle cx="451.90" cy="717.50" r="1.05" fill="#9c1f3f"/>
<circle cx="478.30" cy="693.80" r="1.05" fill="#9c1f3f"/>
<circle cx="501.30" cy="706.00" r="1.05" fill="#9c1f3f"/>
<line x1="367.00" y1="660.60" x2="367.00" y2="672.10" stroke="#111" stroke-width="1.3" />
<path d="M364.50,671.60 L369.50,671.60 L367.00,676.60 Z" fill="#111"/>
<path d="M80.90,816.15 L88.40,816.15 L84.65,824.35 Z" fill="#ee8a12"/>
<text x="93.20" y="823.35" font-size="9.6" fill="#333" textLength="47.20" lengthAdjust="spacingAndGlyphs" >Durvalumab</text>
<line x1="162.70" y1="812.05" x2="162.70" y2="822.65" stroke="#111" stroke-width="1.3" />
<path d="M159.50,822.15 L165.90,822.15 L162.70,828.55 Z" fill="#111"/>
<text x="171.80" y="823.75" font-size="9.6" fill="#333" textLength="77.60" lengthAdjust="spacingAndGlyphs" >Re-expansion event</text>
<line x1="79.20" y1="833.35" x2="79.20" y2="950.50" stroke="#111" stroke-width="1.4" />
<line x1="75.40" y1="949.75" x2="250.80" y2="949.75" stroke="#111" stroke-width="1.5" />
<line x1="74.90" y1="837.55" x2="79.20" y2="837.55" stroke="#111" stroke-width="1.2" />
<text x="66.60" y="840.55" font-size="9.2" fill="#222" text-anchor="end" >10</text>
<text x="67.00" y="835.65" font-size="6.4" fill="#222" >5</text>
<line x1="74.90" y1="856.35" x2="79.20" y2="856.35" stroke="#111" stroke-width="1.2" />
<text x="66.60" y="859.35" font-size="9.2" fill="#222" text-anchor="end" >10</text>
<text x="67.00" y="854.45" font-size="6.4" fill="#222" >4</text>
<line x1="74.90" y1="875.15" x2="79.20" y2="875.15" stroke="#111" stroke-width="1.2" />
<text x="66.60" y="878.15" font-size="9.2" fill="#222" text-anchor="end" >10</text>
<text x="67.00" y="873.25" font-size="6.4" fill="#222" >3</text>
<line x1="74.90" y1="893.95" x2="79.20" y2="893.95" stroke="#111" stroke-width="1.2" />
<text x="66.60" y="896.95" font-size="9.2" fill="#222" text-anchor="end" >10</text>
<text x="67.00" y="892.05" font-size="6.4" fill="#222" >2</text>
<line x1="74.90" y1="912.75" x2="79.20" y2="912.75" stroke="#111" stroke-width="1.2" />
<text x="66.60" y="915.75" font-size="9.2" fill="#222" text-anchor="end" >10</text>
<text x="67.00" y="910.85" font-size="6.4" fill="#222" >1</text>
<line x1="74.90" y1="931.55" x2="79.20" y2="931.55" stroke="#111" stroke-width="1.2" />
<text x="66.60" y="934.55" font-size="9.2" fill="#222" text-anchor="end" >10</text>
<text x="67.00" y="929.65" font-size="6.4" fill="#222" >0</text>
<line x1="79.20" y1="949.75" x2="79.20" y2="953.55" stroke="#111" stroke-width="1.2" />
<text x="79.20" y="966.85" font-size="9.7" fill="#222" text-anchor="middle" >0</text>
<line x1="107.10" y1="949.75" x2="107.10" y2="953.55" stroke="#111" stroke-width="1.2" />
<text x="107.10" y="966.85" font-size="9.7" fill="#222" text-anchor="middle" >30</text>
<line x1="135.00" y1="949.75" x2="135.00" y2="953.55" stroke="#111" stroke-width="1.2" />
<text x="135.00" y="966.85" font-size="9.7" fill="#222" text-anchor="middle" >60</text>
<line x1="162.90" y1="949.75" x2="162.90" y2="953.55" stroke="#111" stroke-width="1.2" />
<text x="162.90" y="966.85" font-size="9.7" fill="#222" text-anchor="middle" >90</text>
<line x1="190.80" y1="949.75" x2="190.80" y2="953.55" stroke="#111" stroke-width="1.2" />
<text x="190.80" y="966.85" font-size="9.7" fill="#222" text-anchor="middle" >120</text>
<line x1="218.70" y1="949.75" x2="218.70" y2="953.55" stroke="#111" stroke-width="1.2" />
<text x="218.70" y="966.85" font-size="9.7" fill="#222" text-anchor="middle" >150</text>
<line x1="246.60" y1="949.75" x2="246.60" y2="953.55" stroke="#111" stroke-width="1.2" />
<text x="246.60" y="966.85" font-size="9.7" fill="#222" text-anchor="middle" >180</text>
<text transform="translate(108.60,983.75) scale(0.58,1)" font-size="12.2" fill="#1a1a1a" stroke="#1a1a1a" stroke-width="0.3" textLength="196.55" lengthAdjust="spacing">Days after CAR-T cell infusion</text>
<text transform="translate(32.60,931.15) rotate(-90) scale(0.58,1)" font-size="11.4" fill="#1a1a1a" stroke="#1a1a1a" stroke-width="0.3" textLength="136.21" lengthAdjust="spacing">CAR-T cells by qPCR</text>
<text transform="translate(47.60,923.55) rotate(-90) scale(0.58,1)" font-size="11.4" fill="#1a1a1a" stroke="#1a1a1a" stroke-width="0.3" textLength="112.07" lengthAdjust="spacing">(copies/μg DNA)</text>
<line x1="80.20" y1="912.75" x2="245.20" y2="912.75" stroke="#111" stroke-width="1.0" stroke-dasharray="2.0 1.7"/>
<path d="M75.35,945.15 L79.65,945.15 L77.50,948.95 Z" fill="#ee8a12"/>
<path d="M102.85,945.15 L107.15,945.15 L105.00,948.95 Z" fill="#ee8a12"/>
<polyline points="79.80,949.90 81.20,898.10 85.70,870.20 88.80,873.00 92.30,869.50 98.70,878.30 105.00,889.40 107.10,895.00 107.60,893.70 111.60,889.80 118.40,901.50 124.80,898.90 131.40,883.40 158.90,873.10 184.90,929.80 186.00,917.10 187.00,911.80 237.20,929.40 246.30,928.10" fill="none" stroke="#4f9c52" stroke-width="1.0" stroke-linejoin="round" />
<circle cx="81.20" cy="898.10" r="1.05" fill="#4f9c52"/>
<circle cx="85.70" cy="870.20" r="1.05" fill="#4f9c52"/>
<circle cx="88.80" cy="873.00" r="1.05" fill="#4f9c52"/>
<circle cx="92.30" cy="869.50" r="1.05" fill="#4f9c52"/>
<circle cx="98.70" cy="878.30" r="1.05" fill="#4f9c52"/>
<circle cx="105.00" cy="889.40" r="1.05" fill="#4f9c52"/>
<circle cx="107.10" cy="895.00" r="1.05" fill="#4f9c52"/>
<circle cx="107.60" cy="893.70" r="1.05" fill="#4f9c52"/>
<circle cx="111.60" cy="889.80" r="1.05" fill="#4f9c52"/>
<circle cx="118.40" cy="901.50" r="1.05" fill="#4f9c52"/>
<circle cx="124.80" cy="898.90" r="1.05" fill="#4f9c52"/>
<circle cx="131.40" cy="883.40" r="1.05" fill="#4f9c52"/>
<circle cx="158.90" cy="873.10" r="1.05" fill="#4f9c52"/>
<circle cx="184.90" cy="929.80" r="1.05" fill="#4f9c52"/>
<circle cx="186.00" cy="917.10" r="1.05" fill="#4f9c52"/>
<circle cx="187.00" cy="911.80" r="1.05" fill="#4f9c52"/>
<circle cx="237.20" cy="929.40" r="1.05" fill="#4f9c52"/>
<circle cx="246.30" cy="928.10" r="1.05" fill="#4f9c52"/>
<line x1="131.40" y1="864.80" x2="131.40" y2="877.70" stroke="#111" stroke-width="1.3" />
<path d="M128.90,877.20 L133.90,877.20 L131.40,882.20 Z" fill="#111"/>
<path d="M336.70,816.15 L344.20,816.15 L340.45,824.35 Z" fill="#ee8a12"/>
<text x="349.00" y="823.35" font-size="9.6" fill="#333" textLength="47.20" lengthAdjust="spacingAndGlyphs" >Durvalumab</text>
<line x1="418.50" y1="812.05" x2="418.50" y2="822.65" stroke="#111" stroke-width="1.3" />
<path d="M415.30,822.15 L421.70,822.15 L418.50,828.55 Z" fill="#111"/>
<text x="427.60" y="823.75" font-size="9.6" fill="#333" textLength="77.60" lengthAdjust="spacingAndGlyphs" >Re-expansion event</text>
<line x1="335.00" y1="833.35" x2="335.00" y2="950.50" stroke="#111" stroke-width="1.4" />
<line x1="331.20" y1="949.75" x2="506.60" y2="949.75" stroke="#111" stroke-width="1.5" />
<line x1="330.70" y1="837.55" x2="335.00" y2="837.55" stroke="#111" stroke-width="1.2" />
<text x="322.40" y="840.55" font-size="9.2" fill="#222" text-anchor="end" >10</text>
<text x="322.80" y="835.65" font-size="6.4" fill="#222" >5</text>
<line x1="330.70" y1="856.35" x2="335.00" y2="856.35" stroke="#111" stroke-width="1.2" />
<text x="322.40" y="859.35" font-size="9.2" fill="#222" text-anchor="end" >10</text>
<text x="322.80" y="854.45" font-size="6.4" fill="#222" >4</text>
<line x1="330.70" y1="875.15" x2="335.00" y2="875.15" stroke="#111" stroke-width="1.2" />
<text x="322.40" y="878.15" font-size="9.2" fill="#222" text-anchor="end" >10</text>
<text x="322.80" y="873.25" font-size="6.4" fill="#222" >3</text>
<line x1="330.70" y1="893.95" x2="335.00" y2="893.95" stroke="#111" stroke-width="1.2" />
<text x="322.40" y="896.95" font-size="9.2" fill="#222" text-anchor="end" >10</text>
<text x="322.80" y="892.05" font-size="6.4" fill="#222" >2</text>
<line x1="330.70" y1="912.75" x2="335.00" y2="912.75" stroke="#111" stroke-width="1.2" />
<text x="322.40" y="915.75" font-size="9.2" fill="#222" text-anchor="end" >10</text>
<text x="322.80" y="910.85" font-size="6.4" fill="#222" >1</text>
<line x1="330.70" y1="931.55" x2="335.00" y2="931.55" stroke="#111" stroke-width="1.2" />
<text x="322.40" y="934.55" font-size="9.2" fill="#222" text-anchor="end" >10</text>
<text x="322.80" y="929.65" font-size="6.4" fill="#222" >0</text>
<line x1="335.00" y1="949.75" x2="335.00" y2="953.55" stroke="#111" stroke-width="1.2" />
<text x="335.00" y="966.85" font-size="9.7" fill="#222" text-anchor="middle" >0</text>
<line x1="362.90" y1="949.75" x2="362.90" y2="953.55" stroke="#111" stroke-width="1.2" />
<text x="362.90" y="966.85" font-size="9.7" fill="#222" text-anchor="middle" >30</text>
<line x1="390.80" y1="949.75" x2="390.80" y2="953.55" stroke="#111" stroke-width="1.2" />
<text x="390.80" y="966.85" font-size="9.7" fill="#222" text-anchor="middle" >60</text>
<line x1="418.70" y1="949.75" x2="418.70" y2="953.55" stroke="#111" stroke-width="1.2" />
<text x="418.70" y="966.85" font-size="9.7" fill="#222" text-anchor="middle" >90</text>
<line x1="446.60" y1="949.75" x2="446.60" y2="953.55" stroke="#111" stroke-width="1.2" />
<text x="446.60" y="966.85" font-size="9.7" fill="#222" text-anchor="middle" >120</text>
<line x1="474.50" y1="949.75" x2="474.50" y2="953.55" stroke="#111" stroke-width="1.2" />
<text x="474.50" y="966.85" font-size="9.7" fill="#222" text-anchor="middle" >150</text>
<line x1="502.40" y1="949.75" x2="502.40" y2="953.55" stroke="#111" stroke-width="1.2" />
<text x="502.40" y="966.85" font-size="9.7" fill="#222" text-anchor="middle" >180</text>
<text transform="translate(363.60,983.75) scale(0.58,1)" font-size="12.2" fill="#1a1a1a" stroke="#1a1a1a" stroke-width="0.3" textLength="196.55" lengthAdjust="spacing">Days after CAR-T cell infusion</text>
<text transform="translate(288.40,931.15) rotate(-90) scale(0.58,1)" font-size="11.4" fill="#1a1a1a" stroke="#1a1a1a" stroke-width="0.3" textLength="136.21" lengthAdjust="spacing">CAR-T cells by qPCR</text>
<text transform="translate(303.40,923.55) rotate(-90) scale(0.58,1)" font-size="11.4" fill="#1a1a1a" stroke="#1a1a1a" stroke-width="0.3" textLength="112.07" lengthAdjust="spacing">(copies/μg DNA)</text>
<line x1="336.00" y1="912.75" x2="501.00" y2="912.75" stroke="#111" stroke-width="1.0" stroke-dasharray="2.0 1.7"/>
<path d="M331.85,945.15 L336.15,945.15 L334.00,948.95 Z" fill="#ee8a12"/>
<path d="M361.25,945.15 L365.55,945.15 L363.40,948.95 Z" fill="#ee8a12"/>
<polyline points="335.30,949.80 335.70,892.50 337.40,889.10 338.70,871.00 340.80,857.50 343.50,855.90 347.50,852.80 354.00,851.00 363.60,864.20 364.70,867.60 369.70,868.50 372.80,861.80" fill="none" stroke="#43284b" stroke-width="1.0" stroke-linejoin="round" />
<circle cx="335.70" cy="892.50" r="1.05" fill="#43284b"/>
<circle cx="337.40" cy="889.10" r="1.05" fill="#43284b"/>
<circle cx="338.70" cy="871.00" r="1.05" fill="#43284b"/>
<circle cx="340.80" cy="857.50" r="1.05" fill="#43284b"/>
<circle cx="343.50" cy="855.90" r="1.05" fill="#43284b"/>
<circle cx="347.50" cy="852.80" r="1.05" fill="#43284b"/>
<circle cx="354.00" cy="851.00" r="1.05" fill="#43284b"/>
<circle cx="363.60" cy="864.20" r="1.05" fill="#43284b"/>
<circle cx="364.70" cy="867.60" r="1.05" fill="#43284b"/>
<circle cx="369.70" cy="868.50" r="1.05" fill="#43284b"/>
<circle cx="372.80" cy="861.80" r="1.05" fill="#43284b"/>
<line x1="372.80" y1="842.70" x2="372.80" y2="856.00" stroke="#111" stroke-width="1.3" />
<path d="M370.30,855.50 L375.30,855.50 L372.80,860.50 Z" fill="#111"/>
<line x1="86.50" y1="1005.80" x2="104.20" y2="1005.80" stroke="#3ba2ca" stroke-width="1.3" />
<circle cx="95.2" cy="1005.8" r="2.4" fill="#3ba2ca"/>
<text x="108.80" y="1008.90" font-size="9.2" fill="#333" textLength="78.50" lengthAdjust="spacingAndGlyphs" >Complete response</text>
<line x1="201.20" y1="1005.80" x2="219.00" y2="1005.80" stroke="#b4173a" stroke-width="1.3" />
<rect x="207.90" y="1003.50" width="4.6" height="4.6" fill="#b4173a"/>
<text x="223.60" y="1008.90" font-size="9.2" fill="#333" textLength="63.70" lengthAdjust="spacingAndGlyphs" >Partial response</text>
<line x1="301.20" y1="1005.80" x2="319.20" y2="1005.80" stroke="#46a24a" stroke-width="1.3" />
<path d="M306.80,1008.00 L312.40,1008.00 L309.6,1003.00 Z" fill="#46a24a"/>
<text x="323.40" y="1008.90" font-size="9.2" fill="#333" textLength="58.80" lengthAdjust="spacingAndGlyphs" >Stable disease</text>
<line x1="396.00" y1="1005.80" x2="414.40" y2="1005.80" stroke="#4d2158" stroke-width="1.3" />
<path d="M405.2,1002.80 L408.2,1005.80 L405.2,1008.80 L402.2,1005.80 Z" fill="#4d2158"/>
<text x="418.90" y="1008.90" font-size="9.2" fill="#333" textLength="79.90" lengthAdjust="spacingAndGlyphs" >Progressive disease</text>
</svg>
</body></html>
